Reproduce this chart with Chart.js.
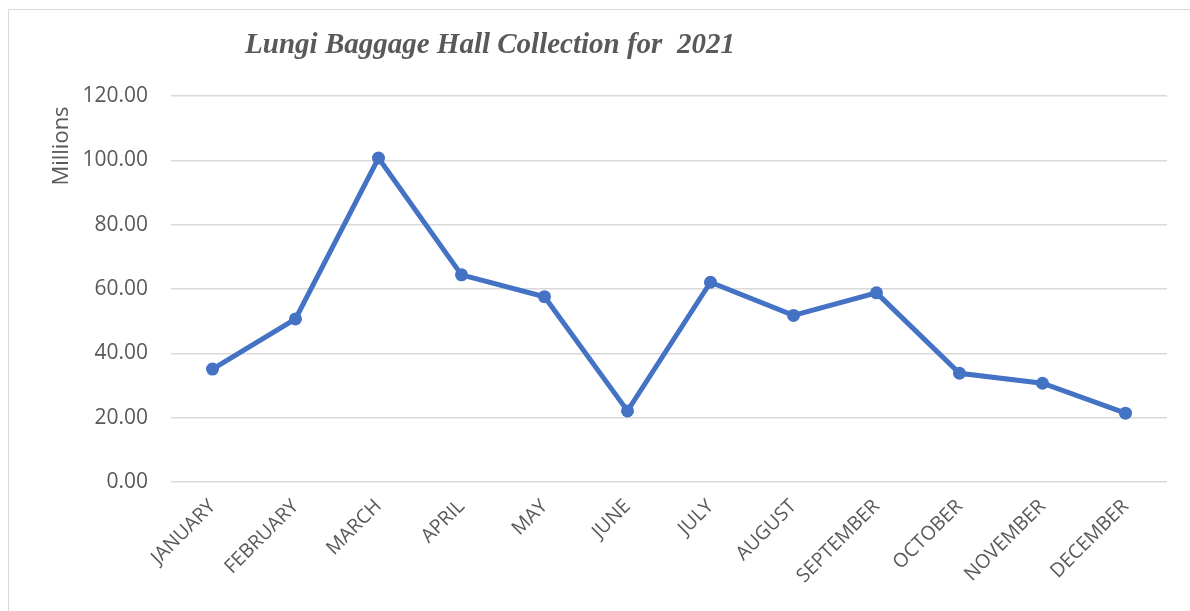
<!DOCTYPE html>
<html>
<head>
<meta charset="utf-8">
<script src="https://cdn.jsdelivr.net/npm/chart.js@4/dist/chart.umd.min.js"></script>
<style>
  html, body { margin:0; padding:0; background:#fff; overflow:hidden; }
  #frame { position:absolute; left:8px; top:9px; width:1300px; height:700px; border:1.5px solid #d9d9d9; }
  #wrap { position:absolute; left:0; top:0; width:1190px; height:611px; }
</style>
</head>
<body>
<div id="frame"></div>
<div id="wrap"><canvas id="collectionChart"></canvas></div>
<script>
const months = ['JANUARY','FEBRUARY','MARCH','APRIL','MAY','JUNE','JULY','AUGUST','SEPTEMBER','OCTOBER','NOVEMBER','DECEMBER'];
const collections = [35.1, 50.7, 100.7, 64.4, 57.6, 22.1, 62.1, 51.8, 58.8, 33.8, 30.7, 21.4];
const yTicks = [0, 20, 40, 60, 80, 100, 120];
const chartTitle = 'Lungi Baggage Hall Collection for  2021';
const axisTitle = 'Millions';

const GREY = '#595959';
const BLUE = '#4472C4';
const SANS = '"Open Sans", sans-serif';

// title sits left of centre over the plot; the unit label hugs the top of the y axis
const headingsPlugin = {
  id: 'headings',
  afterDraw(chart){
    const ctx = chart.ctx;
    ctx.save();
    ctx.fillStyle = GREY;
    ctx.textAlign = 'center';
    ctx.textBaseline = 'middle';
    ctx.font = 'italic bold 29px "Liberation Serif", "Times New Roman", serif';
    ctx.fillText(chartTitle, 490, 46);
    ctx.translate(62, 146);
    ctx.rotate(-Math.PI / 2);
    ctx.font = '22px ' + SANS;
    ctx.fillText(axisTitle, 0, 0);
    ctx.restore();
  }
};

new Chart(document.getElementById('collectionChart').getContext('2d'), {
  type: 'line',
  data: { labels: months, datasets: [
    { label: 'Collection', data: collections, borderColor: BLUE, backgroundColor: BLUE,
      borderWidth: 5, pointRadius: 6.5, pointBackgroundColor: BLUE, pointBorderWidth: 0, tension: 0 }
  ]},
  options: {
    responsive: true, maintainAspectRatio: false, animation: false,
    layout: { padding: { top: 96, right: 23, left: 0, bottom: 0 } },
    plugins: { legend: { display: false }, tooltip: { enabled: false } },
    scales: {
      x: {
        offset: true,
        grid: { display: false },
        border: { display: false },
        ticks: { color: GREY, font: { family: SANS, size: 19.5 }, minRotation: 45, maxRotation: 45, padding: 5 },
        afterFit(scale){ scale.height = 129; }
      },
      y: {
        min: 0, max: 120,
        afterBuildTicks(scale){ scale.ticks = yTicks.map(v => ({ value: v })); },
        grid: { color: '#d9d9d9', lineWidth: 1.5, drawTicks: false },
        border: { display: false },
        ticks: { color: GREY, padding: 23, font: { family: SANS, size: 21 }, callback: v => Number(v).toFixed(2) },
        afterFit(scale){ scale.width = 171; }
      }
    }
  },
  plugins: [headingsPlugin]
});
</script>
</body>
</html>
